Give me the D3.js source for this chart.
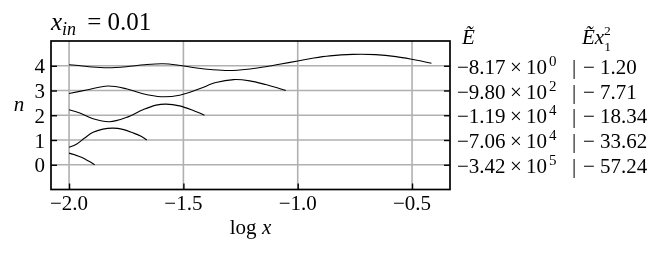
<html>
<head>
    <script src="https://d3js.org/d3.v7.min.js"></script>
    <style>
        body { margin: 0; background: white; }
    </style>
</head>
<body>
    <svg id="chart" width="664" height="254"></svg>
    <script>
        // levels and tick labels
        const levels = [0, 1, 2, 3, 4];
        const xTicks = [-2.0, -1.5, -1.0, -0.5];
        const xTickLabels = ["−2.0", "−1.5", "−1.0", "−0.5"];

        // energy per level (n = 0 .. 4)
        const eMantissa = ["−3.42", "−7.06", "−1.19", "−9.80", "−8.17"];
        const eExponent = ["5", "4", "4", "2", "0"];
        const eScaled = ["57.24", "33.62", "18.34", "7.71", "1.20"];

        // wavefunctions: [log x, psi], drawn shifted by n
        const wave0 = [[-2.000, 0.47], [-1.975, 0.40], [-1.946, 0.30], [-1.917, 0.16], [-1.888, 0.0]];
        const wave1 = [[-2.000, -0.29], [-1.968, -0.17], [-1.932, 0.08], [-1.895, 0.31], [-1.852, 0.44],
                       [-1.808, 0.48], [-1.765, 0.43], [-1.721, 0.29], [-1.685, 0.15], [-1.660, 0.0]];
        const wave2 = [[-2.000, 0.22], [-1.953, 0.09], [-1.895, -0.14], [-1.823, -0.26], [-1.750, -0.09],
                       [-1.677, 0.22], [-1.619, 0.41], [-1.576, 0.45], [-1.517, 0.38], [-1.459, 0.20], [-1.408, 0.0]];
        const wave3 = [[-2.000, -0.12], [-1.924, 0.02], [-1.830, 0.18], [-1.750, 0.07], [-1.677, -0.13],
                       [-1.597, -0.25], [-1.517, -0.19], [-1.430, 0.07], [-1.358, 0.32], [-1.280, 0.44],
                       [-1.210, 0.39], [-1.140, 0.24], [-1.090, 0.11], [-1.052, 0.0]];
        const wave4 = [[-2.000, 0.04], [-1.95, 0.0], [-1.90, -0.05], [-1.83, -0.08], [-1.75, -0.04],
                       [-1.67, 0.04], [-1.59, 0.08], [-1.52, 0.02], [-1.45, -0.08], [-1.37, -0.16],
                       [-1.30, -0.19], [-1.22, -0.14], [-1.15, -0.05], [-1.08, 0.06], [-1.00, 0.19],
                       [-0.93, 0.31], [-0.86, 0.40], [-0.76, 0.46], [-0.66, 0.45], [-0.57, 0.37],
                       [-0.50, 0.26], [-0.415, 0.10]];
        const waves = [wave0, wave1, wave2, wave3, wave4];

        const serif = "'Liberation Serif', 'DejaVu Serif', serif";
        const svg = d3.select("#chart");
        const plotLeft = 51, plotRight = 450, plotTop = 41, plotBottom = 189.5;

        const x = d3.scaleLinear().domain([-2.079, -0.334]).range([plotLeft, plotRight]);
        const y = d3.scaleLinear().domain([-1, 5]).range([plotBottom, plotTop]);

        // grid
        svg.append("g").selectAll("line").data(xTicks).join("line")
            .attr("x1", d => x(d)).attr("x2", d => x(d))
            .attr("y1", plotTop).attr("y2", plotBottom)
            .style("stroke", "#b0b0b0").style("stroke-width", 1.6);
        svg.append("g").selectAll("line").data(levels).join("line")
            .attr("x1", plotLeft).attr("x2", plotRight)
            .attr("y1", d => y(d)).attr("y2", d => y(d))
            .style("stroke", "#b0b0b0").style("stroke-width", 1.6);

        // wavefunctions
        const line = d3.line().curve(d3.curveCatmullRom.alpha(0.5));
        svg.append("g").selectAll("path").data(waves).join("path")
            .attr("d", (w, n) => line(w.map(p => [x(p[0]), y(n + p[1])])))
            .style("fill", "none").style("stroke", "black").style("stroke-width", 1.1);

        // axes, ticks pointing inward
        const xAxis = d3.axisBottom(x).tickValues(xTicks).tickSize(-6).tickFormat("");
        svg.append("g").attr("transform", "translate(0," + plotBottom + ")").call(xAxis)
            .call(g => g.select(".domain").remove());
        const yAxisL = d3.axisLeft(y).tickValues(levels).tickSize(-6).tickFormat("");
        svg.append("g").attr("transform", "translate(" + plotLeft + ",0)").call(yAxisL)
            .call(g => g.select(".domain").remove());
        const yAxisR = d3.axisRight(y).tickValues(levels).tickSize(-6).tickFormat("");
        svg.append("g").attr("transform", "translate(" + plotRight + ",0)").call(yAxisR)
            .call(g => g.select(".domain").remove());
        svg.selectAll(".tick line").style("stroke", "black").style("stroke-width", 1.4);

        svg.append("rect")
            .attr("x", plotLeft).attr("y", plotTop)
            .attr("width", plotRight - plotLeft).attr("height", plotBottom - plotTop)
            .style("fill", "none").style("stroke", "black").style("stroke-width", 1.7);

        const txt = svg.append("g").style("opacity", 0.999);

        // tick labels
        txt.append("g").selectAll("text").data(xTicks).join("text")
            .attr("x", d => x(d)).attr("y", 209.5)
            .attr("text-anchor", "middle")
            .text((d, i) => xTickLabels[i]);
        txt.append("g").selectAll("text").data(levels).join("text")
            .attr("x", 45).attr("y", d => y(d) + 7.5)
            .attr("text-anchor", "end")
            .text(d => d);

        // right-hand energy labels
        const rows = txt.append("g").selectAll("g").data(levels).join("g")
            .attr("transform", d => "translate(0," + (y(d) + 8) + ")");
        rows.append("text").attr("x", 457).text(d => eMantissa[d]);
        rows.append("text").attr("x", 516).attr("text-anchor", "middle").text("×");
        const pow = rows.append("text").attr("x", 526);
        pow.append("tspan").text("10");
        pow.append("tspan").attr("dx", 2).attr("dy", -8).style("font-size", "15px").text(d => eExponent[d]);
        rows.append("text").attr("x", 574).attr("text-anchor", "middle").text("|");
        rows.append("text").attr("x", 583).text(d => "− " + eScaled[d]);

        // column headers
        txt.append("text").attr("x", 462).attr("y", 44)
            .style("font-style", "italic").text("Ẽ");
        const h2 = txt.append("text").attr("x", 582).attr("y", 44);
        h2.append("tspan").style("font-style", "italic").text("Ẽx");
        h2.append("tspan").attr("dy", 7).style("font-size", "13.5px").text("1");
        h2.append("tspan").attr("dx", -7).attr("dy", -16).style("font-size", "13.5px").text("2");

        // title
        const title = txt.append("text").attr("x", 51).attr("y", 30).style("font-size", "25px");
        title.append("tspan").style("font-style", "italic").text("x");
        title.append("tspan").attr("dy", 5).style("font-style", "italic").style("font-size", "18px").text("in");
        title.append("tspan").attr("dy", -5).attr("dx", 11).text("= 0.01");

        // axis labels
        const xl = txt.append("text").attr("x", 250.5).attr("y", 234)
            .attr("text-anchor", "middle");
        xl.append("tspan").text("log ");
        xl.append("tspan").style("font-style", "italic").text("x");
        txt.append("text").attr("x", 19).attr("y", 111)
            .attr("text-anchor", "middle")
            .style("font-style", "italic").text("n");

        // font on every text element directly
        svg.selectAll("text")
            .style("font-family", serif)
            .style("fill", "black")
            .filter(function () { return !this.style.fontSize; })
            .style("font-size", "21px");
    </script>
</body>
</html>
